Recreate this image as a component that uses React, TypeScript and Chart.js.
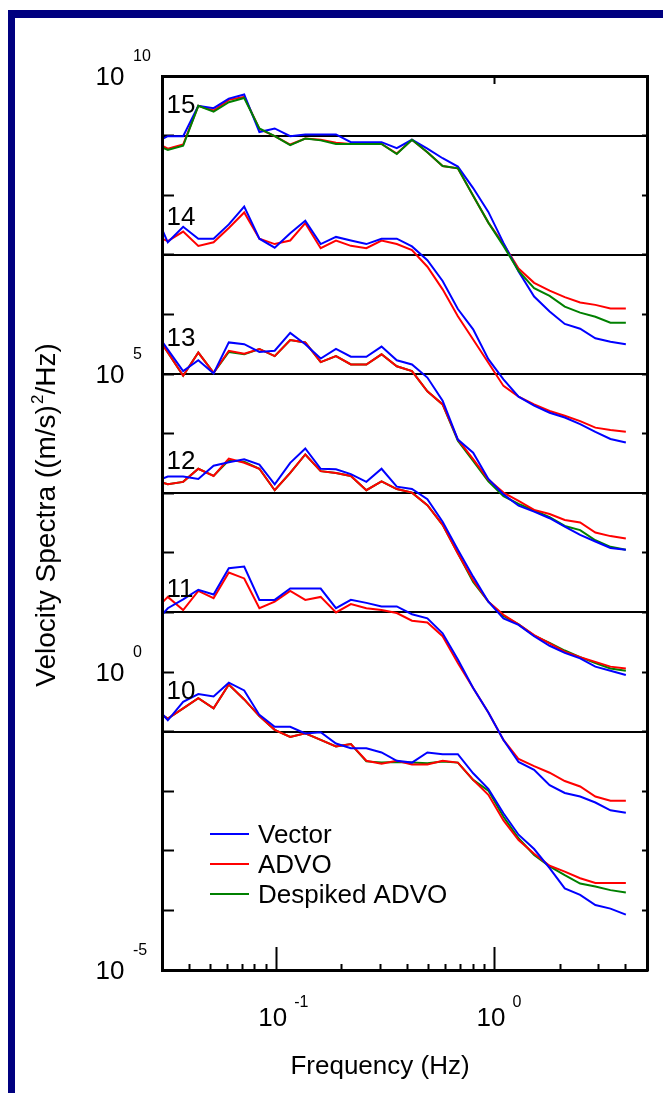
import React, { useEffect, useRef } from "react";
import { Chart, registerables } from "chart.js";

Chart.register(...registerables);

// Frequency bins (Hz)
const freq = [0.03, 0.0319, 0.0375, 0.044, 0.0517, 0.0607, 0.0714, 0.0838, 0.0985, 0.116, 0.136, 0.16, 0.188, 0.22, 0.259, 0.304, 0.357, 0.419, 0.493, 0.579, 0.68, 0.799, 0.938, 1.1, 1.29, 1.52, 1.79, 2.1, 2.47, 2.9, 3.4, 4.0];

// log10 of offset velocity spectra ((m/s)^2/Hz)
const vec15 = [8.94, 8.99, 8.99, 9.5, 9.46, 9.62, 9.69, 9.06, 9.12, 8.99, 9.02, 9.02, 9.02, 8.89, 8.89, 8.89, 8.79, 8.93, 8.78, 8.62, 8.48, 8.12, 7.72, 7.2, 6.72, 6.3, 6.05, 5.84, 5.76, 5.6, 5.54, 5.5];
const adv15 = [8.83, 8.78, 8.85, 9.5, 9.42, 9.6, 9.65, 9.11, 8.99, 8.85, 8.95, 8.93, 8.88, 8.86, 8.86, 8.86, 8.7, 8.93, 8.72, 8.49, 8.45, 7.99, 7.54, 7.18, 6.77, 6.53, 6.4, 6.29, 6.2, 6.16, 6.1, 6.1];
const des15 = [8.8, 8.76, 8.83, 9.5, 9.4, 9.56, 9.63, 9.12, 8.99, 8.84, 8.95, 8.92, 8.86, 8.86, 8.86, 8.86, 8.69, 8.93, 8.72, 8.49, 8.45, 7.99, 7.54, 7.15, 6.73, 6.44, 6.31, 6.13, 6.03, 5.96, 5.86, 5.86];

const vec14 = [7.43, 7.21, 7.47, 7.27, 7.27, 7.51, 7.81, 7.27, 7.12, 7.36, 7.57, 7.18, 7.3, 7.24, 7.18, 7.27, 7.27, 7.14, 6.91, 6.56, 6.09, 5.75, 5.25, 4.91, 4.62, 4.47, 4.35, 4.27, 4.16, 4.03, 3.91, 3.85];
const adv14 = [7.27, 7.23, 7.39, 7.15, 7.21, 7.45, 7.71, 7.27, 7.18, 7.24, 7.53, 7.11, 7.24, 7.15, 7.11, 7.24, 7.18, 7.08, 6.8, 6.42, 5.97, 5.58, 5.19, 4.8, 4.62, 4.49, 4.38, 4.3, 4.21, 4.1, 4.06, 4.03];

const vec13 = [5.55, 5.41, 5.05, 5.23, 5.01, 5.53, 5.5, 5.37, 5.39, 5.69, 5.5, 5.26, 5.42, 5.29, 5.29, 5.46, 5.23, 5.16, 4.94, 4.55, 3.9, 3.68, 3.24, 2.98, 2.79, 2.69, 2.58, 2.44, 2.3, 2.19, 2.08, 2.05];
const adv13 = [5.51, 5.36, 4.97, 5.36, 5.02, 5.39, 5.34, 5.42, 5.3, 5.57, 5.53, 5.2, 5.3, 5.16, 5.16, 5.33, 5.13, 5.05, 4.71, 4.49, 3.9, 3.57, 3.23, 3.01, 2.87, 2.72, 2.65, 2.55, 2.51, 2.34, 2.28, 2.24];
const des13 = [5.51, 5.36, 4.97, 5.36, 5.02, 5.37, 5.33, 5.42, 5.3, 5.57, 5.53, 5.2, 5.3, 5.16, 5.16, 5.33, 5.13, 5.05, 4.71, 4.49, 3.88, 3.54, 3.2, 2.95, 2.82, 2.71, 2.6, 2.45, 2.38, 2.21, 2.1, 2.05];

const vec12 = [3.24, 3.28, 3.28, 3.24, 3.46, 3.52, 3.57, 3.48, 3.15, 3.51, 3.75, 3.41, 3.4, 3.32, 3.19, 3.41, 3.11, 3.07, 2.9, 2.52, 2.05, 1.6, 1.18, 0.9, 0.79, 0.6, 0.44, 0.32, 0.23, 0.09, 0.02, -0.05];
const adv12 = [3.18, 3.15, 3.19, 3.41, 3.29, 3.58, 3.51, 3.41, 3.05, 3.34, 3.65, 3.37, 3.34, 3.29, 3.05, 3.2, 3.07, 3.01, 2.8, 2.47, 1.99, 1.54, 1.18, 0.96, 0.8, 0.62, 0.48, 0.34, 0.25, 0.17, 0.09, 0.06];
const des12 = [3.18, 3.15, 3.19, 3.41, 3.29, 3.55, 3.53, 3.41, 3.05, 3.34, 3.65, 3.37, 3.34, 3.29, 3.05, 3.2, 3.07, 3.01, 2.8, 2.47, 1.99, 1.51, 1.18, 0.94, 0.8, 0.61, 0.49, 0.36, 0.25, 0.15, 0.06, 0.02];

const vec11 = [0.96, 1.07, 1.22, 1.38, 1.3, 1.74, 1.77, 1.21, 1.21, 1.4, 1.4, 1.4, 1.07, 1.21, 1.16, 1.1, 1.1, 0.97, 0.9, 0.65, 0.21, -0.27, -0.68, -1.14, -1.51, -1.64, -1.9, -2.03, -2.09, -2.19, -2.32, -2.36];
const adv11 = [1.16, 1.26, 1.04, 1.36, 1.24, 1.67, 1.57, 1.07, 1.18, 1.36, 1.21, 1.26, 1.0, 1.14, 1.07, 1.04, 0.99, 0.86, 0.83, 0.6, 0.15, -0.27, -0.68, -1.14, -1.46, -1.58, -1.69, -1.83, -1.92, -2.09, -2.16, -2.16];

const vec10 = [-0.7, -0.81, -0.5, -0.37, -0.41, -0.18, -0.31, -0.72, -0.92, -0.92, -1.03, -1.01, -1.2, -1.28, -1.28, -1.35, -1.49, -1.52, -1.35, -1.38, -1.38, -1.7, -1.96, -2.37, -2.73, -2.97, -3.29, -3.63, -3.74, -3.91, -3.97, -4.07];
const adv10 = [-0.72, -0.78, -0.61, -0.44, -0.61, -0.21, -0.46, -0.74, -0.97, -1.09, -1.03, -1.14, -1.25, -1.21, -1.49, -1.54, -1.49, -1.55, -1.55, -1.49, -1.52, -1.81, -2.06, -2.49, -2.82, -3.05, -3.25, -3.35, -3.46, -3.54, -3.54, -3.54];
const des10 = [-0.72, -0.78, -0.61, -0.44, -0.61, -0.21, -0.46, -0.74, -0.97, -1.09, -1.03, -1.14, -1.25, -1.21, -1.5, -1.52, -1.51, -1.52, -1.53, -1.5, -1.52, -1.81, -1.99, -2.43, -2.79, -3.07, -3.26, -3.41, -3.55, -3.6, -3.66, -3.7];

// Spectrum number labels
const spectrumNames = ["15", "14", "13", "12", "11", "10"];
const spectrumLabelLog = [9.38, 7.5, 5.47, 3.41, 1.26, -0.45];
const spectrumLabelFreq = 0.0318;

// Axes
const baselineValues = [1e9, 1e7, 1e5, 1e3, 1e1, 1e-1];
const yTickValues = [1e-5, 1e-4, 1e-3, 1e-2, 1e-1, 1, 1e1, 1e2, 1e3, 1e4, 1e5, 1e6, 1e7, 1e8, 1e9, 1e10];
const yLabelExps = [10, 5, 0, -5];
const xMinorTicks = [0.04, 0.05, 0.06, 0.07, 0.08, 0.09, 0.2, 0.3, 0.4, 0.5, 0.6, 0.7, 0.8, 0.9, 2, 3, 4];
const xMajorTicks = [0.1, 1];
const xTopTicks = [1];
const xLabelExps = [-1, 0];

const BLUE = "#0000ff";
const RED = "#ff0000";
const GREEN = "#008000";
const legendLabels = ["Vector", "ADVO", "Despiked ADVO"];
const legendColors = [BLUE, RED, GREEN];

const FONT = "'Liberation Sans', Arial, Helvetica, sans-serif";

const textPlugin = {
  id: "figureText",
  afterDraw(chart: any) {
    const { ctx, chartArea } = chart;
    const xs = chart.scales.x;
    const ys = chart.scales.y;
    ctx.save();
    ctx.fillStyle = "#000";
    ctx.textBaseline = "alphabetic";

    // y tick labels 10^n
    for (const e of yLabelExps) {
      const py = ys.getPixelForValue(Math.pow(10, e));
      ctx.font = `26px ${FONT}`;
      ctx.textAlign = "right";
      ctx.fillText("10", chartArea.left - 37.5, py + 9);
      ctx.font = `16px ${FONT}`;
      ctx.textAlign = "left";
      ctx.fillText(String(e), chartArea.left - 29, py - 15);
    }

    // x tick labels 10^n
    for (const e of xLabelExps) {
      const px = xs.getPixelForValue(Math.pow(10, e));
      ctx.font = `26px ${FONT}`;
      ctx.textAlign = "center";
      ctx.fillText("10", px - 3.5, chartArea.bottom + 56);
      ctx.font = `16px ${FONT}`;
      ctx.textAlign = "left";
      ctx.fillText(String(e), px + 18, chartArea.bottom + 37);
    }

    // x title
    ctx.font = `26px ${FONT}`;
    ctx.textAlign = "center";
    ctx.fillText("Frequency (Hz)", chartArea.left + 218, chartArea.bottom + 104);

    // y title with superscript
    const p1 = "Velocity Spectra ((m/s)";
    const p2 = "2";
    const p3 = "/Hz)";
    const big = `28px ${FONT}`;
    const small = `17px ${FONT}`;
    ctx.font = big;
    const w1 = ctx.measureText(p1).width;
    const w3 = ctx.measureText(p3).width;
    ctx.font = small;
    const w2 = ctx.measureText(p2).width + 1;
    const total = w1 + w2 + w3;
    ctx.translate(chartArea.left - 117, (chartArea.top + chartArea.bottom) / 2 - 8);
    ctx.rotate(-Math.PI / 2);
    ctx.textAlign = "left";
    ctx.font = big;
    ctx.fillText(p1, -total / 2, 10);
    ctx.font = small;
    ctx.fillText(p2, -total / 2 + w1 + 1, -2);
    ctx.font = big;
    ctx.fillText(p3, -total / 2 + w1 + w2, 10);
    ctx.setTransform(1, 0, 0, 1, 0, 0);

    // spectrum numbers
    ctx.font = `26px ${FONT}`;
    ctx.textAlign = "left";
    spectrumNames.forEach((name, k) => {
      const px = xs.getPixelForValue(spectrumLabelFreq);
      const py = ys.getPixelForValue(Math.pow(10, spectrumLabelLog[k]));
      ctx.fillText(name, px - 1, py);
    });

    // legend
    legendLabels.forEach((label, k) => {
      const y = chartArea.bottom - 136 + k * 30;
      ctx.strokeStyle = legendColors[k];
      ctx.lineWidth = 2;
      ctx.beginPath();
      ctx.moveTo(chartArea.left + 48, y);
      ctx.lineTo(chartArea.left + 87, y);
      ctx.stroke();
      ctx.fillStyle = "#000";
      ctx.font = `26px ${FONT}`;
      ctx.textAlign = "left";
      ctx.fillText(label, chartArea.left + 96, y + 9);
    });
    ctx.restore();
  },
};

function logAxis(position: string, min: number, max: number, ticks: number[], tickLength: number, border: boolean, horizontal: boolean) {
  return {
    type: "logarithmic",
    position,
    min,
    max,
    afterFit: (s: any) => {
      if (horizontal) s.height = 0;
      else s.width = 0;
    },
    afterBuildTicks: (s: any) => {
      s.ticks = ticks.map((v) => ({ value: v }));
    },
    ticks: { display: false },
    grid: {
      drawOnChartArea: false,
      drawTicks: true,
      tickLength,
      tickWidth: 2,
      tickColor: "#000",
    },
    border: { display: border, color: "#000", width: 3, z: 1 },
  };
}

export default function App() {
  const ref = useRef<HTMLCanvasElement>(null);
  useEffect(() => {
    const canvas = ref.current;
    if (!canvas) return;
    const pts = (arr: number[]) => arr.map((v, i) => ({ x: freq[i], y: Math.pow(10, v) }));
    const mk = (arr: number[], color: string, order: number) => ({
      data: pts(arr),
      borderColor: color,
      backgroundColor: color,
      borderWidth: 2,
      pointRadius: 0,
      fill: false,
      tension: 0,
      order,
      xAxisID: "x",
      yAxisID: "y",
    });
    const datasets = [
      mk(des15, GREEN, 0),
      mk(vec15, BLUE, 1),
      mk(adv15, RED, 2),
      mk(vec14, BLUE, 1),
      mk(adv14, RED, 2),
      mk(vec13, BLUE, 1),
      mk(adv13, RED, 2),
      mk(des13, GREEN, 3),
      mk(vec12, BLUE, 1),
      mk(adv12, RED, 2),
      mk(des12, GREEN, 3),
      mk(vec11, BLUE, 1),
      mk(adv11, RED, 2),
      mk(vec10, BLUE, 1),
      mk(adv10, RED, 2),
      mk(des10, GREEN, 3),
    ];
    const baseAxis: any = {
      type: "logarithmic",
      position: "left",
      min: 1e-5,
      max: 1e10,
      afterFit: (s: any) => {
        s.width = 0;
      },
      afterBuildTicks: (s: any) => {
        s.ticks = baselineValues.map((v) => ({ value: v }));
      },
      ticks: { display: false },
      grid: { drawOnChartArea: true, drawTicks: false, color: "#000", lineWidth: 2 },
      border: { display: false },
    };
    const chart = new Chart(canvas, {
      type: "line",
      data: { datasets: datasets as any },
      options: {
        responsive: false,
        animation: false,
        devicePixelRatio: 1,
        events: [],
        layout: { padding: { left: 162, right: 16, top: 76, bottom: 123 } },
        plugins: { legend: { display: false }, tooltip: { enabled: false }, title: { display: false } },
        scales: {
          x: logAxis("bottom", 0.03, 5, xMinorTicks, -6, true, true),
          xMaj: logAxis("bottom", 0.03, 5, xMajorTicks, -23, false, true),
          xTop: logAxis("top", 0.03, 5, xTopTicks, -8, true, true),
          y: logAxis("left", 1e-5, 1e10, yTickValues, -12, true, false),
          yR: logAxis("right", 1e-5, 1e10, yTickValues, -5, true, false),
          yBase: baseAxis,
        } as any,
      },
      plugins: [textPlugin],
    });
    return () => chart.destroy();
  }, []);

  return (
    <div style={{ position: "absolute", left: 0, top: 0, width: 663, height: 1093, background: "#fff", overflow: "hidden" }}>
      <canvas ref={ref} width={663} height={1093} style={{ position: "absolute", left: 0, top: 0, width: 663, height: 1093 }} />
      <div style={{ position: "absolute", left: 8, top: 10, width: 655, height: 8, background: "#000080" }} />
      <div style={{ position: "absolute", left: 8, top: 10, width: 7, height: 1083, background: "#000080" }} />
    </div>
  );
}
